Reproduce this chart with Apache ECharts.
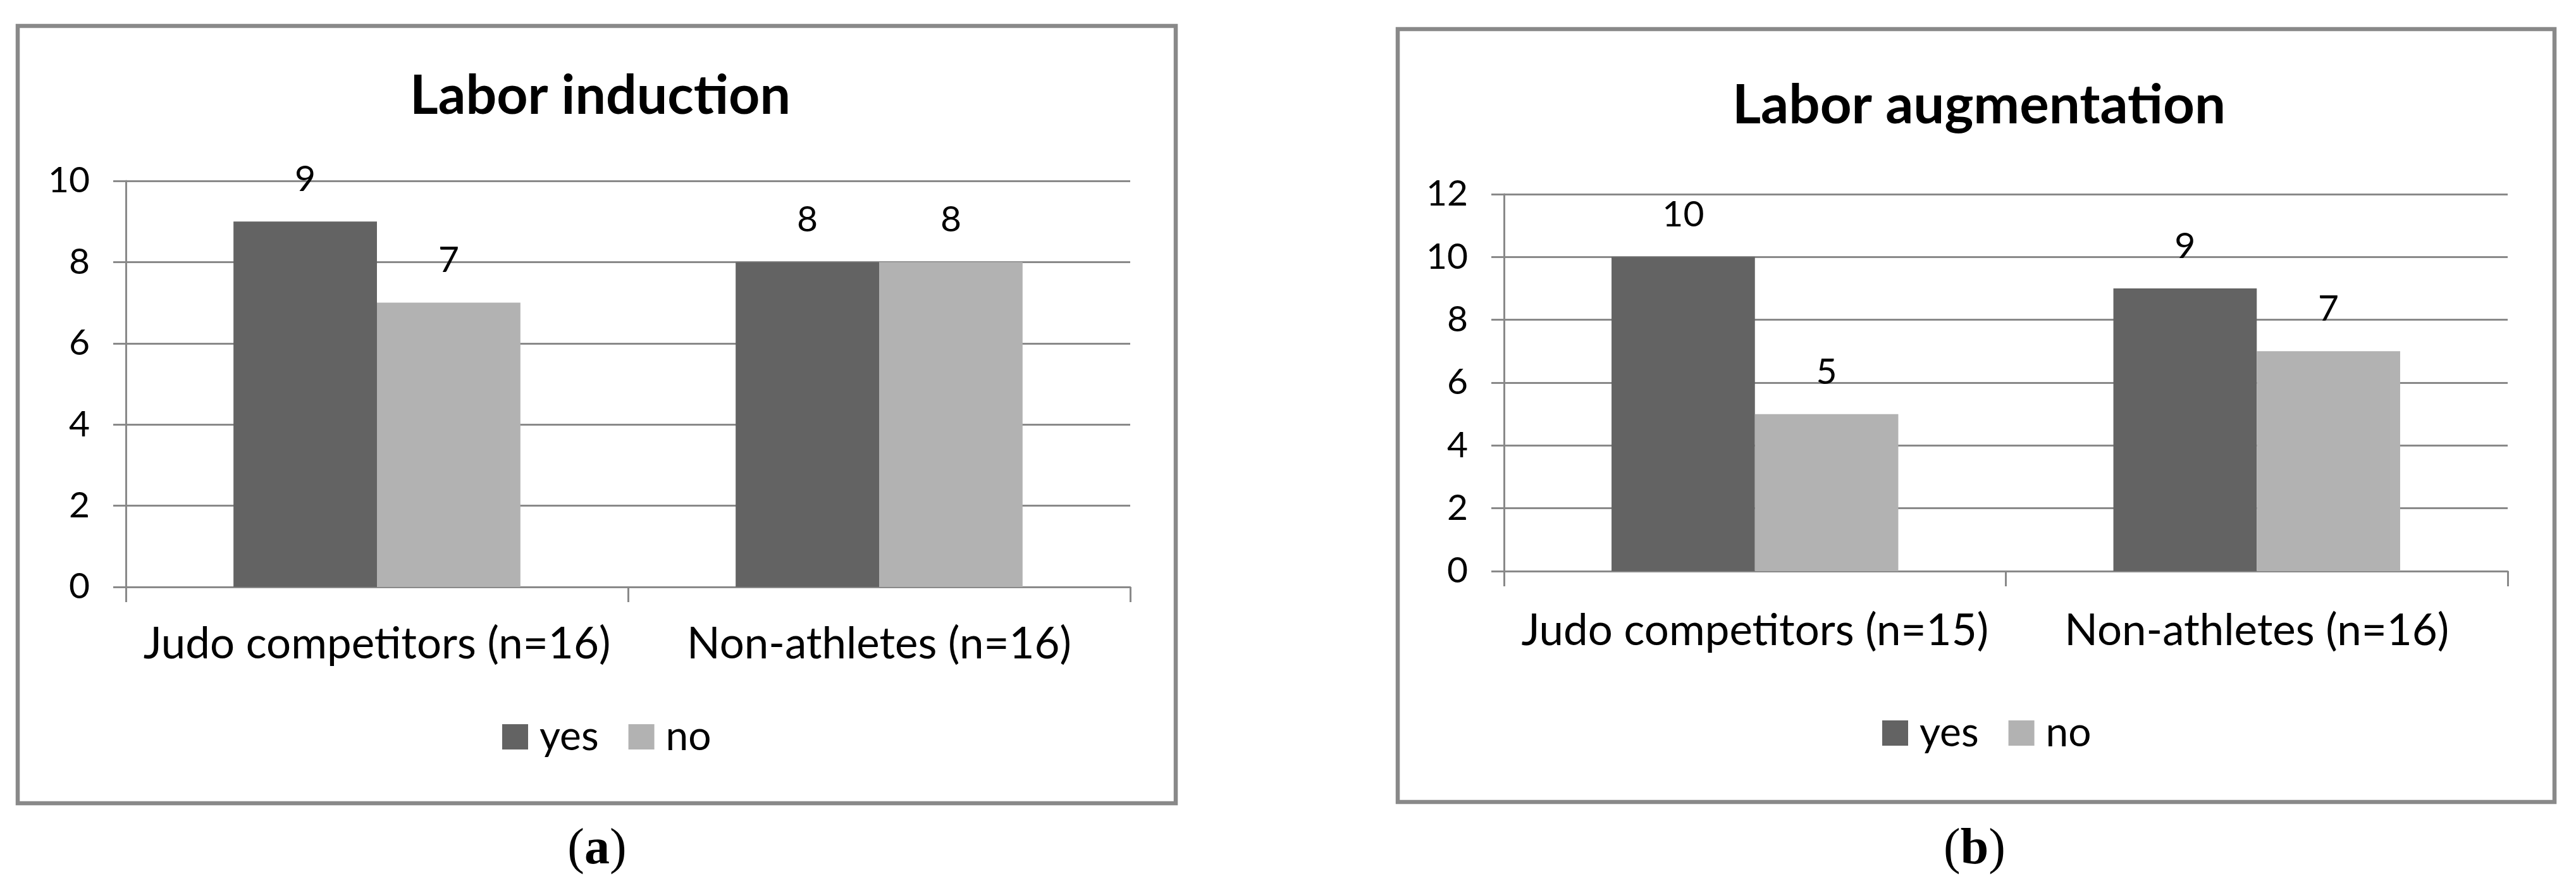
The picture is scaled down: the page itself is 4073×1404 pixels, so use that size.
<!DOCTYPE html>
<html>
<head>
<meta charset="utf-8">
<script src="https://cdn.jsdelivr.net/npm/echarts@6/dist/echarts.min.js"></script>
<style>
html,body{margin:0;padding:0;background:#fff;}
#chart{width:4073px;height:1404px;}
</style>
</head>
<body>
<div id="chart"></div>
<script>
// ---- data ----
const titleA = 'Labor induction';
const titleB = 'Labor augmentation';
const categoriesA = ['Judo competitors (n=16)', 'Non-athletes (n=16)'];
const categoriesB = ['Judo competitors (n=15)', 'Non-athletes (n=16)'];
const seriesNames = ['yes', 'no'];
const yesA = [9, 8];
const noA = [7, 8];
const yesB = [10, 9];
const noB = [5, 7];
const yMaxA = 10;
const yMaxB = 12;
const yStep = 2;

// ---- styles ----
const FONT = 'Lato';
const GRID_COLOR = '#898989';
const YES_COLOR = '#636363';
const NO_COLOR = '#b2b2b2';

function yAxis(gridIndex, max) {
  return {
    type: 'value', gridIndex: gridIndex, min: 0, max: max, interval: yStep,
    axisLine: {show: true, lineStyle: {color: GRID_COLOR, width: 3}},
    axisTick: {show: true, inside: false, length: 20, lineStyle: {color: GRID_COLOR, width: 3}},
    splitLine: {show: true, lineStyle: {color: GRID_COLOR, width: 3}},
    axisLabel: {color: '#000', fontFamily: FONT, fontSize: 57, margin: 57}
  };
}
function xAxis(gridIndex, cats, margin) {
  return {
    type: 'category', gridIndex: gridIndex, data: cats, boundaryGap: true,
    axisLine: {show: true, lineStyle: {color: GRID_COLOR, width: 3}},
    axisTick: {show: true, inside: false, length: 24, alignWithLabel: false, lineStyle: {color: GRID_COLOR, width: 3}},
    splitLine: {show: false},
    axisLabel: {color: '#000', fontFamily: FONT, fontSize: 69, margin: margin, interval: 0}
  };
}
function bar(name, data, idx, color) {
  return {
    type: 'bar', name: name, data: data, xAxisIndex: idx, yAxisIndex: idx,
    barGap: '0%', barCategoryGap: '42.86%',
    itemStyle: {color: color},
    label: {show: true, position: 'top', distance: 38, color: '#000', fontFamily: FONT, fontSize: 57},
    emphasis: {disabled: true}
  };
}
function legend(left, top) {
  return {
    left: left, top: top, orient: 'horizontal', icon: 'rect',
    itemWidth: 41, itemHeight: 40, itemGap: 47, selectedMode: false,
    data: seriesNames,
    textStyle: {color: '#000', fontFamily: FONT, fontSize: 64, padding: [0, 0, 0, 13]}
  };
}

const chart = echarts.init(document.getElementById('chart'), null, {renderer: 'canvas'});
chart.setOption({
  backgroundColor: '#fff',
  animation: false,
  title: [
    {text: titleA, left: 944, top: 104, textAlign: 'center',
     textStyle: {fontFamily: FONT, fontWeight: 'bold', fontSize: 86, color: '#000'}},
    {text: titleB, left: 3124, top: 118, textAlign: 'center',
     textStyle: {fontFamily: FONT, fontWeight: 'bold', fontSize: 87, color: '#000'}}
  ],
  legend: [legend(789, 1128), legend(2971, 1122)],
  grid: [
    {left: 199, right: 4073 - 1787, top: 286, bottom: 1404 - 928, containLabel: false},
    {left: 2378, right: 4073 - 3965, top: 307, bottom: 1404 - 903, containLabel: false}
  ],
  xAxis: [xAxis(0, categoriesA, 56), xAxis(1, categoriesB, 60)],
  yAxis: [yAxis(0, yMaxA), yAxis(1, yMaxB)],
  series: [
    bar(seriesNames[0], yesA, 0, YES_COLOR),
    bar(seriesNames[1], noA, 0, NO_COLOR),
    bar(seriesNames[0], yesB, 1, YES_COLOR),
    bar(seriesNames[1], noB, 1, NO_COLOR)
  ],
  graphic: [
    {type: 'rect', shape: {x: 28, y: 41, width: 1831, height: 1229},
     style: {fill: 'none', stroke: GRID_COLOR, lineWidth: 6.5}, silent: true},
    {type: 'rect', shape: {x: 2210, y: 46, width: 1829, height: 1222},
     style: {fill: 'none', stroke: GRID_COLOR, lineWidth: 6.5}, silent: true},
    {type: 'text', x: 944, y: 1344,
     style: {text: '{p|(}{b|a}{p|)}', align: 'center', verticalAlign: 'middle',
       rich: {p: {fontFamily: 'Liberation Serif', fontSize: 80, color: '#000'},
              b: {fontFamily: 'Liberation Serif', fontSize: 80, fontWeight: 'bold', color: '#000'}}}},
    {type: 'text', x: 3122, y: 1344,
     style: {text: '{p|(}{b|b}{p|)}', align: 'center', verticalAlign: 'middle',
       rich: {p: {fontFamily: 'Liberation Serif', fontSize: 80, color: '#000'},
              b: {fontFamily: 'Liberation Serif', fontSize: 80, fontWeight: 'bold', color: '#000'}}}}
  ]
});
</script>
</body>
</html>
